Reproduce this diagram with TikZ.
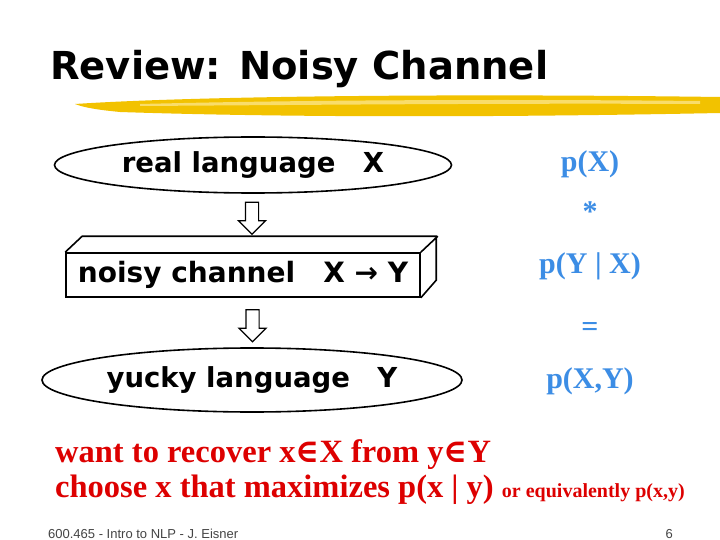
\documentclass[tikz,border=0pt]{standalone}
\usepackage{fontspec}
\usepackage{tikz}
\usetikzlibrary{positioning,shapes.geometric,shapes.arrows,calc}
\setmainfont{Liberation Serif}
\newfontfamily\headfont{DejaVu Sans}
\newfontfamily\footfont{Liberation Sans}
\newfontfamily\elemfont{DejaVu Serif}
\definecolor{ProbBlue}{HTML}{3C8DE5}
\definecolor{GoalRed}{HTML}{DD0000}
\definecolor{BrushGold}{HTML}{F2C200}
\definecolor{BrushLight}{HTML}{F9DD6A}
\definecolor{FootGray}{HTML}{444444}

\begin{document}
\begin{tikzpicture}[x=1pt,y=-1pt,
          lang/.style={ellipse, draw, line width=1.6pt, inner sep=0pt,
            font=\headfont\bfseries\fontsize{27.5}{30}\selectfont},
          chanbox/.style={rectangle, draw, line width=1.6pt, inner sep=0pt,
            font=\headfont\bfseries\fontsize{28}{30}\selectfont},
          hollow/.style={single arrow, draw, line width=1.2pt, fill=white,
            shape border rotate=270, inner sep=6pt, minimum height=32pt,
            single arrow head extend=7pt},
          prob/.style={anchor=base, inner sep=0pt, text=ProbBlue,
            font=\bfseries\fontsize{30}{34}\selectfont},
          goal/.style={anchor=base west, inner sep=0pt, text=GoalRed,
            font=\bfseries\fontsize{32.5}{34}\selectfont},
          foot/.style={anchor=base west, inner sep=0pt, text=FootGray,
            font=\footfont\fontsize{13}{15}\selectfont}]
        \useasboundingbox (0,0) rectangle (720,540);
        \fill[white] (0,0) rectangle (720,540);
        % brush stroke under the title
        \fill[BrushGold] (75,104) .. controls (180,97) and (420,93) .. (720,97)
          -- (720,113) .. controls (520,117) and (300,118) .. (120,112)
          .. controls (100,110) and (85,108) .. (75,104) -- cycle;
        \fill[BrushLight] (140,104) .. controls (300,100) and (500,99) .. (700,101)
          -- (700,104) .. controls (500,103) and (300,105) .. (140,106) -- cycle;
        \node[anchor=base west, inner sep=0pt,
          font=\headfont\bfseries\fontsize{38.5}{44}\selectfont]
        (title) at (50,80) {Review: Noisy Channel};
        % the channel
        \node[lang, minimum width=397pt, minimum height=56pt]
        (real) at (253,165) {real language\quad X};
        \node[chanbox, minimum width=354pt, minimum height=44pt]
        (chan) at (243,275) {noisy channel\quad X → Y};
        \draw[line width=1.6pt] (chan.north west) -- ++(17,-16) -- ++(354,0)
          -- ++(0,44) -- (chan.south east) (chan.north east) -- ++(17,-16);
        \node[lang, minimum width=420pt, minimum height=64pt]
        (yucky) at (252,380) {yucky language\quad Y};
        \node[hollow] (down1) at ($(real.south)!0.5!(chan.north)+(4,-8)$) {};
        \node[hollow] (down2) at ($(chan.south)!0.5!(yucky.north)+(5,0)$) {};
        % probabilities
        \node[prob] (px) at (590,172) {p(X)};
        \node[prob] (times) at (590,222) {*};
        \node[prob] (pyx) at (590,273) {p(Y | X)};
        \node[prob] (equals) at (590,336) {=};
        \node[prob] (pxy) at (590,388) {p(X,Y)};
        % goal
        \node[goal] (want) at (55,462)
        {want to recover x{\elemfont ∈}X from y{\elemfont ∈}Y};
        \node[goal] (choose) at (55,497)
        {choose x that maximizes p(x | y) {\fontsize{20}{22}\selectfont or equivalently p(x,y)}};
        \node[foot] (credit) at (48,538) {600.465 - Intro to NLP - J. Eisner};
        \node[foot, anchor=base east] (page) at (673,538) {6};
      \end{tikzpicture}
\end{document}
